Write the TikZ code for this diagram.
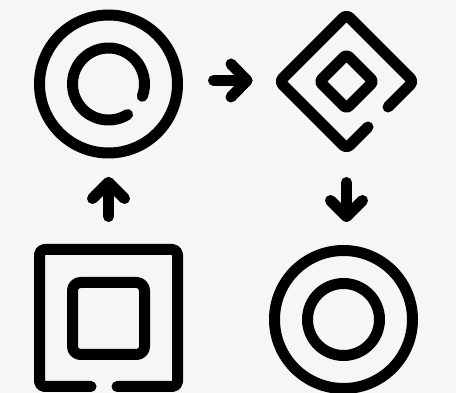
\documentclass[tikz,border=0pt]{standalone}
\definecolor{bgcol}{RGB}{245,246,248}
\tikzset{
  icon/.style={line width=11pt, line cap=round, line join=round, draw=black},
}
\begin{document}
\begin{tikzpicture}[x=1pt,y=-1pt]
\fill[bgcol] (0,0) rectangle (456,393);
\useasboundingbox (0,0) rectangle (456,393);
% centres
\coordinate (c1) at (108.5,84);
\coordinate (c2) at (346.5,81.5);
\coordinate (c3) at (108.5,318);
\coordinate (c4) at (343.5,319.5);
% top-left: circle with open inner arc
\draw[icon] (c1) circle[radius=69];
\draw[icon] ([shift={(58:36)}]c1) arc[start angle=58, end angle=380, radius=36];
% top-right: diamond with gap
\draw[icon, rounded corners=4pt] (388,107) -- (413.5,81.5) -- (346.5,14.5) -- (279.5,81.5) -- (346.5,148.5) -- (368,127);
\draw[icon, rounded corners=3pt] (373.5,81.5) -- (346.5,54.5) -- (319.5,81.5) -- (346.5,108.5) -- cycle;
% bottom-left: square with gap
\draw[icon, rounded corners=5pt] (91,386.5) -- (39.5,386.5) -- (39.5,249.5) -- (177.5,249.5) -- (177.5,386.5) -- (117,386.5);
\draw[icon, rounded corners=8pt] (72.5,282.5) rectangle (144.5,354.5);
% bottom-right: two circles
\draw[icon] (c4) circle[radius=69];
\draw[icon] (c4) circle[radius=36];
% arrows
\coordinate (ra0) at (213.5,80.5);
\coordinate (ra1) at (247,80.5);
\draw[icon] (ra0) -- (ra1);
\draw[icon] (231,64) -- (ra1) -- (231,97);
\coordinate (ua0) at (108.5,216.5);
\coordinate (ua1) at (108.5,182.5);
\draw[icon] (ua0) -- (ua1);
\draw[icon] (92.5,198.5) -- (ua1) -- (124.5,198.5);
\coordinate (da0) at (346.5,182.5);
\coordinate (da1) at (346.5,216.5);
\draw[icon] (da0) -- (da1);
\draw[icon] (330.5,200.5) -- (da1) -- (362.5,200.5);
\end{tikzpicture}
\end{document}
